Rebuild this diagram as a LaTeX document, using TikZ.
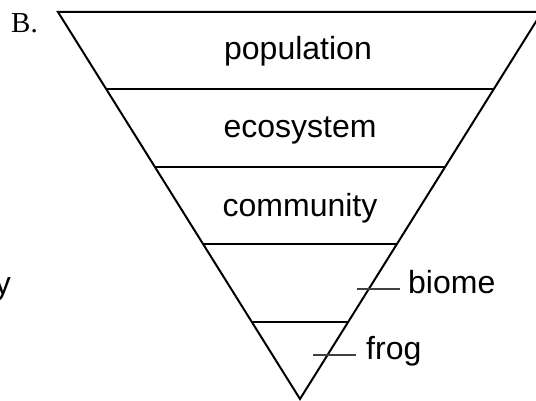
\documentclass[tikz,border=0pt]{standalone}
\usepackage{fontspec}
\setmainfont{Liberation Sans}
\newfontfamily\romanfont{Liberation Serif}
\usetikzlibrary{calc}

\tikzset{
  outline/.style = {draw, line width=2pt, line join=miter},
  pointer/.style = {draw, line width=1.1pt, gray!50!black},
  rung/.style    = {inner sep=0pt, anchor=base, font=\fontsize{32}{38}\selectfont},
  side/.style    = {rung, anchor=base west}
}

\begin{document}
\begin{tikzpicture}[x=1pt, y=-1pt]

\useasboundingbox (0,0) rectangle (536,401);

% The funnel, corners first
\coordinate (tl) at (58,12);
\coordinate (tr) at (542,12);
\coordinate (apex) at (300,399);

\draw[outline] (tl) -- (tr) -- (apex) -- cycle;

\foreach \t in {0.2,0.4,0.6,0.8}
  \draw[outline] ($(tl)!\t!(apex)$) -- ($(tr)!\t!(apex)$);

% The level names
\node[rung] (pop) at (298,60) {population};
\node[rung] (eco) at (300,138) {ecosystem};
\node[rung] (com) at (300,217) {community};

% The side names with their pointers
\coordinate (bt) at (357,289);
\coordinate (ft) at (313,355);
\node[side] (biome) at (408,293) {biome};
\node[side] (frog) at (366,359) {frog};

\draw[pointer, shorten >=8pt] (bt) -- (bt -| biome.west);
\draw[pointer, shorten >=10pt] (ft) -- (ft -| frog.west);

\node[anchor=base west, inner sep=0pt, font=\romanfont\fontsize{29}{34}\selectfont] (part) at (11,33) {B.};
\node[side, anchor=base east] (cut) at (11,294) {y};

\end{tikzpicture}
\end{document}
